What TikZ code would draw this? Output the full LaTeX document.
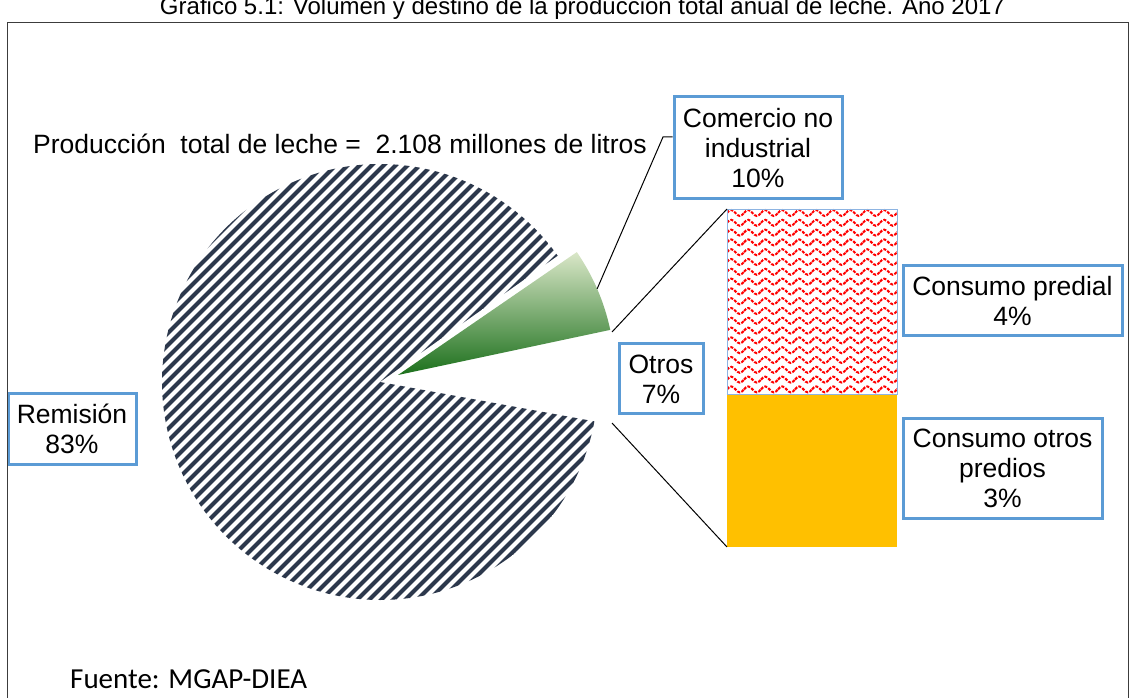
\documentclass[tikz,border=0pt]{standalone}
\usepackage{fontspec}
\setmainfont{Liberation Sans}
\newfontfamily\calib{Carlito}
\usetikzlibrary{calc}
\definecolor{boxblue}{RGB}{91,155,213}
\definecolor{hatchc}{RGB}{44,56,76}
\definecolor{goldc}{RGB}{255,192,0}
\definecolor{barblue}{RGB}{141,180,226}
\definecolor{frameg}{RGB}{60,60,60}
\definecolor{gtop}{RGB}{218,231,200}
\definecolor{gmid}{RGB}{150,188,112}
\definecolor{gbot}{RGB}{28,112,28}
\tikzset{
  lbl/.style={draw=boxblue, line width=3pt, fill=white, align=center, inner sep=0pt,
    font=\fontsize{26.5}{30}\selectfont},
  conn/.style={black, line width=1pt},
  hatchline/.style={hatchc, line width=4pt},
  wave/.style={red, line width=2pt, dash pattern=on 3pt off 1.4pt},
}
\begin{document}
\begin{tikzpicture}[x=1pt,y=1pt]
\useasboundingbox (0,0) rectangle (1130,697);
% title (partly cut at top, as in the source)
\node[anchor=base, font=\fontsize{24}{28}\selectfont] (title) at (582.5,682.5)
  {Gráfico 5.1: Volumen y destino de la producción total anual de leche. Año 2017};
% pie: Remisión (hatched)
\coordinate (pc) at (380,315);
\begin{scope}
  \clip (pc) -- ($(pc)+(35.4:218)$) arc[start angle=35.4, end angle=349.6, radius=218] -- cycle;
  \foreach \c in {-400,-388,...,520}
    \draw[hatchline] (\c+80,80) -- ++(470,470);
\end{scope}
% pie: Comercio no industrial (green, exploded)
\coordinate (gc) at (398,322);
\shade[top color=gtop, middle color=gmid, bottom color=gbot]
  (gc) -- ($(gc)+(12:217)$) arc[start angle=12, end angle=34.5, radius=217] -- cycle;
\coordinate (g1) at ($(gc)+(23.4:217)$);
\coordinate (o1) at (612,365);
\coordinate (o2) at (612,274);
\coordinate (k) at (663,560);
% bar of pie
\node[fill=goldc, minimum width=170pt, minimum height=153pt, inner sep=0pt, anchor=south west] (co) at (727,150) {};
\begin{scope}
  \clip (727,303) rectangle (897,488);
  \foreach \r in {0,...,18} {
    \foreach \q in {0,...,10} {
      \draw[wave] ({727+17*\q},{484-9.8*\r}) sin ++(4.25,3) cos ++(4.25,-3) sin ++(4.25,-3) cos ++(4.25,3);
    }
  }
\end{scope}
\node[draw=barblue, line width=1.2pt, minimum width=170pt, minimum height=185pt, inner sep=0pt, anchor=north west] (cp) at (727,488) {};
% labels
\node[lbl, minimum width=168pt, minimum height=102pt] (com) at (758,549) {Comercio no\\industrial\\10\%};
\node[lbl, minimum width=219pt, minimum height=70pt] (pred) at (1012.5,396) {Consumo predial\\4\%};
\node[lbl, minimum width=199pt, minimum height=99pt] (otp) at (1002.5,228.5) {Consumo otros\\predios\\3\%};
\node[lbl, minimum width=84pt, minimum height=70pt] (otros) at (661,318) {Otros\\7\%};
\node[lbl, minimum width=128pt, minimum height=70pt] (rem) at (72,268) {Remisión\\83\%};
% connectors
\draw[conn] (g1) -- (k) -- (k -| com.west);
\draw[conn] (o1) -- (cp.north west);
\draw[conn] (o2) -- (co.south west);
% texts
\node[anchor=base west, inner sep=0pt, font=\fontsize{26.5}{30}\selectfont] (prod) at (33,543)
  {Producción\ \ total de leche =\ \ 2.108 millones de litros};
\node[anchor=base west, inner sep=0pt, font=\calib\fontsize{29}{34}\selectfont] (fuente) at (70,9)
  {Fuente: MGAP-DIEA};
% frame
\draw[frameg, line width=1.5pt] (7.5,-5) -- (7.5,674.5) -- (1128.5,674.5) -- (1128.5,-5);
\end{tikzpicture}
\end{document}
